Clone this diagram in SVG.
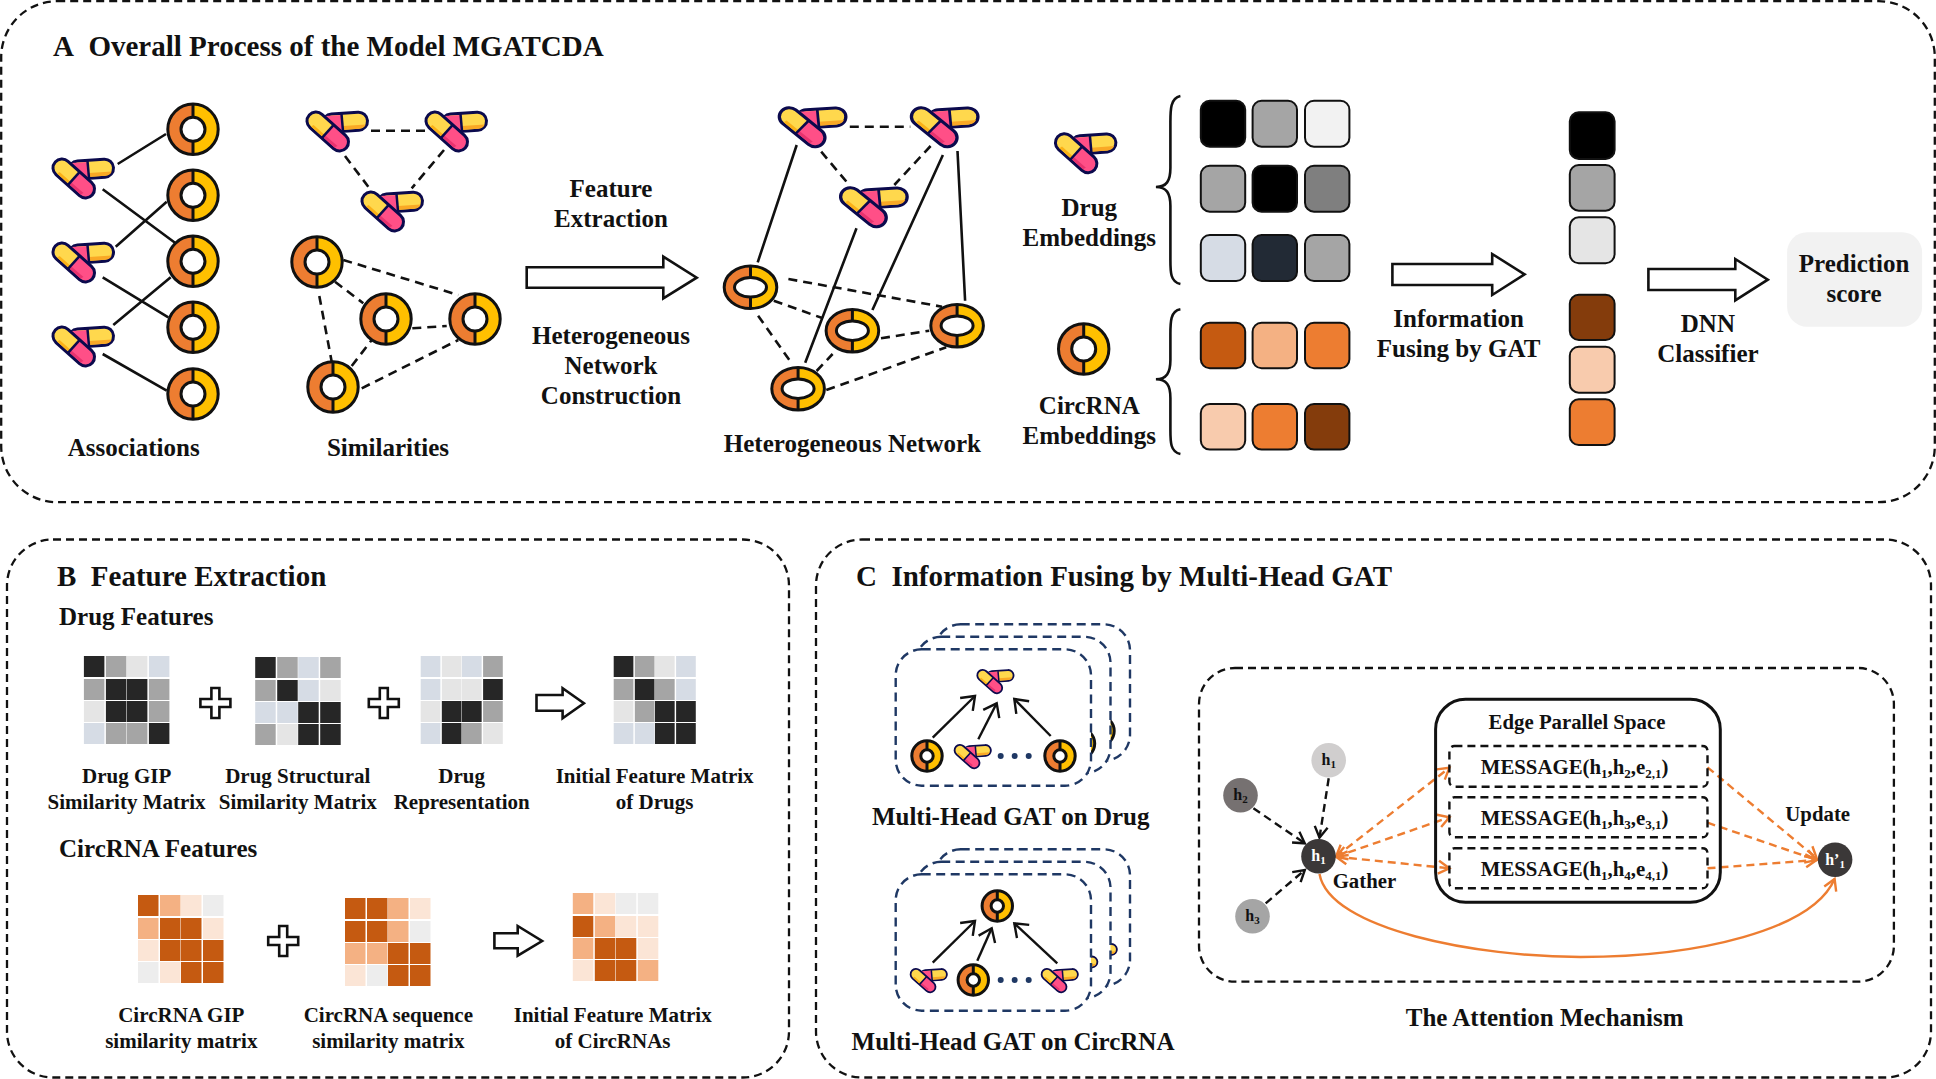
<svg xmlns="http://www.w3.org/2000/svg" width="1936" height="1079" viewBox="0 0 1936 1079">
<style>
text{font-family:"Liberation Serif","Times New Roman",serif;font-weight:bold;fill:#111;text-anchor:middle}
.h{font-size:29px;text-anchor:start}
.s{font-size:25px;text-anchor:start}
.l{font-size:25px}
.m{font-size:21px}
.e2{font-size:20.8px}
.n{font-size:16px}
.panel{fill:none;stroke:#111;stroke-width:2.3;stroke-dasharray:8 5}
.sol{stroke:#111;stroke-width:2.6;fill:none}
.das{stroke:#111;stroke-width:2.6;fill:none;stroke-dasharray:9 6}
.hollow{fill:#fff;stroke:#111;stroke-width:2.6}
.sq{stroke:#111;stroke-width:2}
.lay{fill:#fff;stroke:#1f3864;stroke-width:2.4;stroke-dasharray:9 5.5}
.arw{stroke:#111;stroke-width:2.4;fill:none;marker-end:url(#big)}
.bd{stroke:#111;stroke-width:2.4;fill:none;stroke-dasharray:8 5;marker-end:url(#open)}
.od{stroke:#ed7d31;stroke-width:2.4;fill:none;stroke-dasharray:8 5;marker-end:url(#oopen)}
.odd{stroke:#ed7d31;stroke-width:2.4;fill:none;stroke-dasharray:8 5;marker-end:url(#oopen);marker-start:url(#oopen)}
.box{fill:none;stroke:#111;stroke-width:2.4;stroke-dasharray:8 5}
.d{fill:#262626}.g{fill:#a5a5a5}.w{fill:#e5e5e5}.b{fill:#d6dce5}
.o{fill:#c55a11}.p{fill:#f4b183}.q{fill:#fbe5d6}.x{fill:#ededed}
</style>
<defs>
<marker id="open" markerUnits="userSpaceOnUse" markerWidth="18" markerHeight="18" refX="13" refY="8" orient="auto-start-reverse" viewBox="0 0 18 16"><path d="M2 1.5L13 8L2 14.5" fill="none" stroke="#111" stroke-width="2.4"/></marker>
<marker id="big" markerUnits="userSpaceOnUse" markerWidth="18" markerHeight="22" refX="14" refY="10" orient="auto" viewBox="0 0 18 20"><path d="M2 1L14 10L2 19" fill="none" stroke="#111" stroke-width="2.4"/></marker>
<marker id="oopen" markerUnits="userSpaceOnUse" markerWidth="18" markerHeight="18" refX="13" refY="8" orient="auto-start-reverse" viewBox="0 0 18 16"><path d="M2 1.5L13 8L2 14.5" fill="none" stroke="#ed7d31" stroke-width="2.4"/></marker>
<rect id="cell" width="20.5" height="21"/>
<g id="ring">
<circle r="25.2" fill="#ffc000"/>
<path d="M0-25.2A25.2 25.2 0 0 0 0 25.2Z" fill="#ed7d31"/>
<circle r="25.2" fill="none" stroke="#111" stroke-width="3"/>
<path d="M0-25.2V-12M0 12V25.2" stroke="#111" stroke-width="3"/>
<circle r="12" fill="#fff" stroke="#111" stroke-width="3"/>
</g>
<g id="ring-e">
<ellipse rx="26.3" ry="21.3" fill="#ffc000"/>
<path d="M0-21.3A26.3 21.3 0 0 0 0 21.3Z" fill="#ed7d31"/>
<ellipse rx="26.3" ry="21.3" fill="none" stroke="#111" stroke-width="3"/>
<path d="M0-21.3V-9.7M0 9.7V21.3" stroke="#111" stroke-width="3"/>
<ellipse rx="16" ry="9.7" fill="#fff" stroke="#111" stroke-width="3"/>
</g>
<g id="ring-s">
<circle r="15.2" fill="#ffc000"/>
<path d="M0-15.2A15.2 15.2 0 0 0 0 15.2Z" fill="#ed7d31"/>
<circle r="15.2" fill="none" stroke="#111" stroke-width="3"/>
<path d="M0-15.2V-6.2M0 6.2V15.2" stroke="#111" stroke-width="3"/>
<circle r="6.2" fill="#fff" stroke="#111" stroke-width="3"/>
</g>
<g id="pill">
<path d="M26 12L52.5 10.2" stroke="#0b0a4d" stroke-width="21" stroke-linecap="round"/>
<path d="M26 12L52.5 10.2" stroke="#ffd84d" stroke-width="15" stroke-linecap="round"/>
<path d="M37 15L59.8 13.4A7.5 7.5 0 0 1 53 17.7L37.5 19Z" fill="#f9a825"/>
<path d="M19 5L36 4L37 19L22 20Z" fill="#ff4f87"/>
<path d="M35.5 3L37 20" stroke="#0b0a4d" stroke-width="2.5"/>
<path d="M10 10L33.5 31" stroke="#0b0a4d" stroke-width="21" stroke-linecap="round"/>
<path d="M15 4.4L26.75 14.9L16.75 26.1L5 15.6A7.5 7.5 0 0 1 15 4.4Z" fill="#ffd84d"/>
<path d="M5 15.6L16.75 26.1L18.75 23.9L7.6 13.9Z" fill="#fbb117"/>
<path d="M26.75 14.9L38.5 25.4A7.5 7.5 0 0 1 28.5 36.6L16.75 26.1Z" fill="#ff4f87"/>
<path d="M16.75 26.1L28.5 36.6L31.5 35L18.75 23.9Z" fill="#e8336f"/>
<path d="M27.5 14.2L16 26.8" stroke="#0b0a4d" stroke-width="2.5"/>
</g>
<g id="dots" fill="#1f3864"><circle cx="0" r="3"/><circle cx="14" r="3"/><circle cx="28" r="3"/></g>
<g id="headDrug">
<rect class="lay" x="895.7" y="649.3" width="195.3" height="136.4" rx="26"/>
<use href="#pill" transform="translate(976.7 669.3) scale(.6)"/>
<use href="#ring-s" x="927" y="756"/>
<use href="#pill" transform="translate(954 744.3) scale(.6)"/>
<use href="#dots" transform="translate(1000.7 756)"/>
<use href="#ring-s" x="1060" y="756"/>
<path class="arw" d="M932.7 737.7L975 696"/>
<path class="arw" d="M978.3 739.3L996.7 703.3"/>
<path class="arw" d="M1050.7 736L1014.3 699"/>
</g>
<g id="headCirc">
<rect class="lay" x="895.7" y="874.3" width="195.3" height="136.4" rx="26"/>
<use href="#ring-s" x="997.3" y="906"/>
<use href="#pill" transform="translate(910 968.3) scale(.6)"/>
<use href="#ring-s" x="973.3" y="980"/>
<use href="#dots" transform="translate(1000.7 980)"/>
<use href="#pill" transform="translate(1041 968.3) scale(.6)"/>
<path class="arw" d="M932.7 962.7L975 921"/>
<path class="arw" d="M977.3 960.7L991.7 928.3"/>
<path class="arw" d="M1057.3 963.3L1014.3 923.3"/>
</g>
</defs>
<rect width="1936" height="1079" fill="#fff"/>

<g id="panel-a"><rect class="panel" x="1.2" y="1.2" width="1933.6" height="501" rx="56"/>
<text class="h" x="53" y="55.5">A&#160; Overall Process of the Model MGATCDA</text></g>
<g id="panel-b"><rect class="panel" x="7" y="539.5" width="782" height="538" rx="46"/>
<text class="h" x="57" y="586">B&#160; Feature Extraction</text>
<text class="s" x="59" y="625">Drug Features</text>
<text class="s" x="59" y="857">CircRNA Features</text></g>
<g id="panel-c"><rect class="panel" x="816" y="539.5" width="1115" height="538" rx="46"/>
<text class="h" x="856" y="586">C&#160; Information Fusing by Multi-Head GAT</text></g>

<g id="connectors">
<path class="sol" d="M117.7 164L166 134M102.7 189.3L175 242.7M115.7 246.7L166.7 201.7M102.7 277.3L168.3 317.3M113.3 325L170.7 277.3M102.7 354L166.7 390.7"/>
<path class="das" d="M371 130.7H425M345 156L368.3 186.7M444 150L411.7 188.3M343.3 260L458.3 295M335 281.7L363.3 303.3M319.3 296L331.7 361.7M412.3 328.3L446.7 326M351.7 366L371.7 340M361.7 388.3L458.3 340"/>
<path class="sol" d="M796.7 145L757.7 262.3M856.5 228.3L805.2 362.7M942.9 155L872.4 310M957.5 151L965.1 300.7"/>
<path class="das" d="M849.8 126.7H910.3M821.2 151.7L847.3 182.7M930.6 146L894.3 185M788.4 279L942 306.7M773.8 300.7L822.9 318.3M758.1 315.7L790.5 361.7M881 338.3L929.2 330.7M816.6 371L832.6 354M826.3 390L946.2 347.3"/>
<path class="bd" d="M1328.7 778.3L1319.5 837.7"/>
<path class="bd" d="M1253.4 808.3L1304.8 843.3"/>
<path class="bd" d="M1265.7 903.3L1304.8 870"/>
<path class="odd" d="M1336 856.7L1449.4 767.7"/>
<path class="odd" d="M1336 856.7L1449.4 817.3"/>
<path class="odd" d="M1336 856.7L1449.4 868.3"/>
<path class="od" d="M1707.5 767.3L1816.7 858.3"/>
<path class="od" d="M1707.5 822.7L1816.7 860"/>
<path class="od" d="M1707.5 868.3L1816.7 860"/>
<path d="M1319.5 874C1329.5 930 1478.9 957 1580.5 957C1698 957 1812.5 930 1834.6 879" fill="none" stroke="#ed7d31" stroke-width="2.4" marker-end="url(#oopen)"/>
</g>

<g id="assoc-drugs"><use href="#pill" x="52" y="158"/><use href="#pill" x="52" y="242"/><use href="#pill" x="52" y="326"/></g>
<g id="assoc-circs"><use href="#ring" x="193" y="129.3"/><use href="#ring" x="193" y="195.3"/><use href="#ring" x="193" y="261.3"/><use href="#ring" x="193" y="327.3"/><use href="#ring" x="193" y="394"/></g>
<text class="l" x="133.7" y="455.7">Associations</text>
<g id="sim-drugs"><use href="#pill" x="306" y="111"/><use href="#pill" x="425" y="111"/><use href="#pill" x="361" y="191"/></g>
<g id="sim-circs"><use href="#ring" x="317" y="262"/><use href="#ring" x="386" y="319"/><use href="#ring" x="475" y="319"/><use href="#ring" x="333" y="387"/></g>
<text class="l" x="388" y="455.7">Similarities</text>

<g id="arrow-main"><path class="hollow" d="M526.7 267.3H663.3V256.7L696.7 277.7L663.3 298.3V287.7H526.7Z"/></g>
<g id="label-main"><text class="l" x="611" y="197">Feature</text><text class="l" x="611" y="227">Extraction</text>
<text class="l" x="611" y="344">Heterogeneous</text><text class="l" x="611" y="374">Network</text><text class="l" x="611" y="404">Construction</text></g>

<g id="het-drugs"><use href="#pill" transform="translate(778.2 106.7) scale(1.1 1)"/><use href="#pill" transform="translate(910.3 106.7) scale(1.1 1)"/><use href="#pill" transform="translate(839.5 186.7) scale(1.1 1)"/></g>
<g id="het-circs"><use href="#ring-e" x="750.5" y="287.3"/><use href="#ring-e" x="852.4" y="330.7"/><use href="#ring-e" x="957.1" y="325.7"/><use href="#ring-e" x="798.1" y="388.7"/></g>
<text class="l" x="852.4" y="451.7">Heterogeneous Network</text>

<g id="drug-embed"><use href="#pill" x="1054.4" y="132.7"/><text class="l" x="1089.3" y="215.7">Drug</text><text class="l" x="1089.3" y="245.7">Embeddings</text>
<path class="sol" stroke-width="3" d="M1180.4 96C1170.4 98 1170.4 110 1170.4 122V168C1170.4 181 1166.5 187 1155.9 187C1166.5 187 1170.4 193 1170.4 206V260C1170.4 272 1170.4 282 1180.4 284"/>
<rect class="sq" x="1200.8" y="100.7" width="44.4" height="46" rx="9" fill="#000"/><rect class="sq" x="1252.6" y="100.7" width="44.4" height="46" rx="9" fill="#a5a5a5"/><rect class="sq" x="1305" y="100.7" width="44.4" height="46" rx="9" fill="#f2f2f2"/>
<rect class="sq" x="1200.8" y="165.7" width="44.4" height="46" rx="9" fill="#a5a5a5"/><rect class="sq" x="1252.6" y="165.7" width="44.4" height="46" rx="9" fill="#000"/><rect class="sq" x="1305" y="165.7" width="44.4" height="46" rx="9" fill="#7f7f7f"/>
<rect class="sq" x="1200.8" y="235" width="44.4" height="46" rx="9" fill="#d6dce5"/><rect class="sq" x="1252.6" y="235" width="44.4" height="46" rx="9" fill="#222a35"/><rect class="sq" x="1305" y="235" width="44.4" height="46" rx="9" fill="#a5a5a5"/></g>
<g id="circ-embed"><use href="#ring" x="1083.7" y="349"/><text class="l" x="1089.3" y="414.3">CircRNA</text><text class="l" x="1089.3" y="444.3">Embeddings</text>
<path class="sol" stroke-width="3" d="M1180.4 309.3C1170.4 311 1170.4 322 1170.4 334V360C1170.4 373 1166.5 379.3 1155.9 379.3C1166.5 379.3 1170.4 385 1170.4 398V430C1170.4 442 1170.4 452 1180.4 454"/>
<rect class="sq" x="1200.8" y="322.7" width="44.4" height="45.6" rx="9" fill="#c55a11"/><rect class="sq" x="1252.6" y="322.7" width="44.4" height="45.6" rx="9" fill="#f4b183"/><rect class="sq" x="1305" y="322.7" width="44.4" height="45.6" rx="9" fill="#ed7d31"/>
<rect class="sq" x="1200.8" y="404" width="44.4" height="45.6" rx="9" fill="#f8cbad"/><rect class="sq" x="1252.6" y="404" width="44.4" height="45.6" rx="9" fill="#ed7d31"/><rect class="sq" x="1305" y="404" width="44.4" height="45.6" rx="9" fill="#843c0c"/></g>

<g id="arrow-gat"><path class="hollow" d="M1392.4 264H1492.2V254L1524.6 274.3L1492.2 295V285H1392.4Z"/><text class="l" x="1458.6" y="327.3">Information</text><text class="l" x="1458.6" y="357.3">Fusing by GAT</text></g>
<g id="fused">
<rect class="sq" x="1569.8" y="112.3" width="44.8" height="46.6" rx="9" fill="#000"/><rect class="sq" x="1569.8" y="165" width="44.8" height="45.7" rx="9" fill="#a5a5a5"/><rect class="sq" x="1569.8" y="217.3" width="44.8" height="46" rx="9" fill="#e5e5e5"/>
<rect class="sq" x="1569.8" y="294.7" width="44.8" height="45.3" rx="9" fill="#843c0c"/><rect class="sq" x="1569.8" y="346.7" width="44.8" height="46" rx="9" fill="#f8cbad"/><rect class="sq" x="1569.8" y="399.3" width="44.8" height="45.7" rx="9" fill="#ed7d31"/></g>
<g id="arrow-dnn"><path class="hollow" d="M1648.4 269H1735.3V259L1767.8 279.7L1735.3 300.3V290H1648.4Z"/><text class="l" x="1707.9" y="332.3">DNN</text><text class="l" x="1707.9" y="362.3">Classifier</text></g>
<g id="prediction"><rect x="1787.1" y="232.3" width="135" height="94.4" rx="20" fill="#f2f2f2"/><text class="l" x="1854.1" y="272.3">Prediction</text><text class="l" x="1854.1" y="302.3">score</text></g>

<g id="m-drug-gip" transform="translate(83.9 656)"><use href="#cell" class="d" x="0" y="0"/><use href="#cell" class="g" x="22" y="0"/><use href="#cell" class="w" x="43" y="0"/><use href="#cell" class="b" x="65" y="0"/><use href="#cell" class="g" x="0" y="23"/><use href="#cell" class="d" x="22" y="23"/><use href="#cell" class="d" x="43" y="23"/><use href="#cell" class="g" x="65" y="23"/><use href="#cell" class="w" x="0" y="45"/><use href="#cell" class="d" x="22" y="45"/><use href="#cell" class="d" x="43" y="45"/><use href="#cell" class="g" x="65" y="45"/><use href="#cell" class="b" x="0" y="67"/><use href="#cell" class="g" x="22" y="67"/><use href="#cell" class="g" x="43" y="67"/><use href="#cell" class="d" x="65" y="67"/></g>
<g id="m-drug-str" transform="translate(255.2 657)"><use href="#cell" class="d" x="0" y="0"/><use href="#cell" class="g" x="22" y="0"/><use href="#cell" class="b" x="43" y="0"/><use href="#cell" class="g" x="65" y="0"/><use href="#cell" class="g" x="0" y="23"/><use href="#cell" class="d" x="22" y="23"/><use href="#cell" class="b" x="43" y="23"/><use href="#cell" class="w" x="65" y="23"/><use href="#cell" class="b" x="0" y="45"/><use href="#cell" class="b" x="22" y="45"/><use href="#cell" class="d" x="43" y="45"/><use href="#cell" class="d" x="65" y="45"/><use href="#cell" class="g" x="0" y="67"/><use href="#cell" class="w" x="22" y="67"/><use href="#cell" class="d" x="43" y="67"/><use href="#cell" class="d" x="65" y="67"/></g>
<g id="m-drug-rep" transform="translate(420.7 656) scale(.96 1)"><use href="#cell" class="b" x="0" y="0"/><use href="#cell" class="w" x="22" y="0"/><use href="#cell" class="b" x="43" y="0"/><use href="#cell" class="g" x="65" y="0"/><use href="#cell" class="b" x="0" y="23"/><use href="#cell" class="w" x="22" y="23"/><use href="#cell" class="w" x="43" y="23"/><use href="#cell" class="d" x="65" y="23"/><use href="#cell" class="w" x="0" y="45"/><use href="#cell" class="d" x="22" y="45"/><use href="#cell" class="d" x="43" y="45"/><use href="#cell" class="g" x="65" y="45"/><use href="#cell" class="b" x="0" y="67"/><use href="#cell" class="d" x="22" y="67"/><use href="#cell" class="g" x="43" y="67"/><use href="#cell" class="w" x="65" y="67"/></g>
<g id="m-drug-init" transform="translate(613.7 656) scale(.96 1)"><use href="#cell" class="d" x="0" y="0"/><use href="#cell" class="g" x="22" y="0"/><use href="#cell" class="w" x="43" y="0"/><use href="#cell" class="b" x="65" y="0"/><use href="#cell" class="g" x="0" y="23"/><use href="#cell" class="d" x="22" y="23"/><use href="#cell" class="g" x="43" y="23"/><use href="#cell" class="b" x="65" y="23"/><use href="#cell" class="w" x="0" y="45"/><use href="#cell" class="g" x="22" y="45"/><use href="#cell" class="d" x="43" y="45"/><use href="#cell" class="d" x="65" y="45"/><use href="#cell" class="b" x="0" y="67"/><use href="#cell" class="b" x="22" y="67"/><use href="#cell" class="d" x="43" y="67"/><use href="#cell" class="d" x="65" y="67"/></g>
<g id="m-circ-gip" transform="translate(138 895)"><use href="#cell" class="o" x="0" y="0"/><use href="#cell" class="p" x="22" y="0"/><use href="#cell" class="q" x="43" y="0"/><use href="#cell" class="x" x="65" y="0"/><use href="#cell" class="p" x="0" y="23"/><use href="#cell" class="o" x="22" y="23"/><use href="#cell" class="o" x="43" y="23"/><use href="#cell" class="q" x="65" y="23"/><use href="#cell" class="q" x="0" y="45"/><use href="#cell" class="o" x="22" y="45"/><use href="#cell" class="o" x="43" y="45"/><use href="#cell" class="o" x="65" y="45"/><use href="#cell" class="x" x="0" y="67"/><use href="#cell" class="q" x="22" y="67"/><use href="#cell" class="o" x="43" y="67"/><use href="#cell" class="o" x="65" y="67"/></g>
<g id="m-circ-seq" transform="translate(345 898)"><use href="#cell" class="o" x="0" y="0"/><use href="#cell" class="o" x="22" y="0"/><use href="#cell" class="p" x="43" y="0"/><use href="#cell" class="q" x="65" y="0"/><use href="#cell" class="o" x="0" y="23"/><use href="#cell" class="o" x="22" y="23"/><use href="#cell" class="p" x="43" y="23"/><use href="#cell" class="x" x="65" y="23"/><use href="#cell" class="p" x="0" y="45"/><use href="#cell" class="p" x="22" y="45"/><use href="#cell" class="o" x="43" y="45"/><use href="#cell" class="o" x="65" y="45"/><use href="#cell" class="q" x="0" y="67"/><use href="#cell" class="x" x="22" y="67"/><use href="#cell" class="o" x="43" y="67"/><use href="#cell" class="o" x="65" y="67"/></g>
<g id="m-circ-init" transform="translate(572.8 893)"><use href="#cell" class="p" x="0" y="0"/><use href="#cell" class="q" x="22" y="0"/><use href="#cell" class="x" x="43" y="0"/><use href="#cell" class="x" x="65" y="0"/><use href="#cell" class="o" x="0" y="23"/><use href="#cell" class="p" x="22" y="23"/><use href="#cell" class="q" x="43" y="23"/><use href="#cell" class="q" x="65" y="23"/><use href="#cell" class="p" x="0" y="45"/><use href="#cell" class="o" x="22" y="45"/><use href="#cell" class="o" x="43" y="45"/><use href="#cell" class="q" x="65" y="45"/><use href="#cell" class="q" x="0" y="67"/><use href="#cell" class="o" x="22" y="67"/><use href="#cell" class="o" x="43" y="67"/><use href="#cell" class="p" x="65" y="67"/></g>

<g id="ops">
<path class="hollow" d="M211.4 688H219.4V699H230.4V707H219.4V718H211.4V707H200.4V699H211.4Z"/>
<path class="hollow" d="M379.8 688H387.8V699H398.8V707H387.8V718H379.8V707H368.8V699H379.8Z"/>
<path class="hollow" d="M279.2 926H287.2V937H298.2V945H287.2V956H279.2V945H268.2V937H279.2Z"/>
<path class="hollow" d="M536.5 695H562.6V688.3L583.9 703.3L562.6 718.3V710.7H536.5Z"/>
<path class="hollow" d="M494.4 933.3H517.7V926L542.1 941L517.7 955.7V948.3H494.4Z"/>
</g>
<g id="labels-b">
<text class="m" x="126.6" y="783.3">Drug GIP</text><text class="m" x="126.6" y="808.7">Similarity Matrix</text>
<text class="m" x="297.8" y="783.3">Drug Structural</text><text class="m" x="297.8" y="808.7">Similarity Matrix</text>
<text class="m" x="461.7" y="783.3">Drug</text><text class="m" x="461.7" y="808.7">Representation</text>
<text class="m" x="654.6" y="783.3">Initial Feature Matrix</text><text class="m" x="654.6" y="808.7">of Drugs</text>
<text class="m" x="181.3" y="1022">CircRNA GIP</text><text class="m" x="181.3" y="1047.5">similarity matrix</text>
<text class="m" x="388.3" y="1022">CircRNA sequence</text><text class="m" x="388.3" y="1047.5">similarity matrix</text>
<text class="m" x="612.7" y="1022">Initial Feature Matrix</text><text class="m" x="612.7" y="1047.5">of CircRNAs</text>
</g>

<g id="gat-drug"><use href="#headDrug" transform="translate(39 -25)"/><use href="#headDrug" transform="translate(19.5 -12.5)"/><use href="#headDrug"/></g>
<text class="l" x="1010.7" y="825">Multi-Head GAT on Drug</text>
<g id="gat-circ"><use href="#headCirc" transform="translate(39 -25)"/><use href="#headCirc" transform="translate(19.5 -12.5)"/><use href="#headCirc"/></g>
<text class="l" x="1013" y="1049.5">Multi-Head GAT on CircRNA</text>

<g id="attention-panel"><rect class="panel" x="1199" y="668" width="694.9" height="313.7" rx="36"/></g>
<text class="l" x="1544.6" y="1026">The Attention Mechanism</text>
<g id="edge-space"><rect x="1435.6" y="699.3" width="284.7" height="203" rx="30" fill="none" stroke="#111" stroke-width="3"/>
<text class="e2" x="1577" y="729.3">Edge Parallel Space</text></g>
<g id="msg1"><rect class="box" x="1449.4" y="746" width="258.1" height="40.7" rx="5"/><text class="e2" x="1574.6" y="774">MESSAGE(h<tspan font-size="13" dy="4">1</tspan><tspan dy="-4">,h</tspan><tspan font-size="13" dy="4">2</tspan><tspan dy="-4">,e</tspan><tspan font-size="13" dy="4">2,1</tspan><tspan dy="-4">)</tspan></text></g>
<g id="msg2"><rect class="box" x="1449.4" y="797.3" width="258.1" height="40" rx="5"/><text class="e2" x="1574.6" y="825">MESSAGE(h<tspan font-size="13" dy="4">1</tspan><tspan dy="-4">,h</tspan><tspan font-size="13" dy="4">3</tspan><tspan dy="-4">,e</tspan><tspan font-size="13" dy="4">3,1</tspan><tspan dy="-4">)</tspan></text></g>
<g id="msg3"><rect class="box" x="1449.4" y="848.3" width="258.1" height="40" rx="5"/><text class="e2" x="1574.6" y="875.7">MESSAGE(h<tspan font-size="13" dy="4">1</tspan><tspan dy="-4">,h</tspan><tspan font-size="13" dy="4">4</tspan><tspan dy="-4">,e</tspan><tspan font-size="13" dy="4">4,1</tspan><tspan dy="-4">)</tspan></text></g>
<g id="n-h1a"><circle cx="1328.7" cy="760.3" r="17.3" fill="#d0cece"/><text class="n" x="1328.7" y="765">h<tspan font-size="11" dy="3">1</tspan></text></g>
<g id="n-h2"><circle cx="1240.5" cy="795.3" r="17.3" fill="#767171"/><text class="n" x="1240.5" y="800">h<tspan font-size="11" dy="3">2</tspan></text></g>
<g id="n-h3"><circle cx="1252.5" cy="916.3" r="17.3" fill="#a5a5a5"/><text class="n" x="1252.5" y="921">h<tspan font-size="11" dy="3">3</tspan></text></g>
<g id="n-h1"><circle cx="1318.5" cy="856.3" r="17.3" fill="#3b3838"/><text class="n" style="fill:#fff" x="1318.5" y="861">h<tspan font-size="11" dy="3">1</tspan></text></g>
<g id="n-h1p"><circle cx="1835.1" cy="859.7" r="17.3" fill="#3b3838"/><text class="n" style="fill:#fff" x="1835.1" y="864.5">h’<tspan font-size="11" dy="3">1</tspan></text></g>
<text class="e2" x="1364.4" y="888.3">Gather</text>
<text class="e2" x="1817.7" y="821">Update</text>
</svg>
